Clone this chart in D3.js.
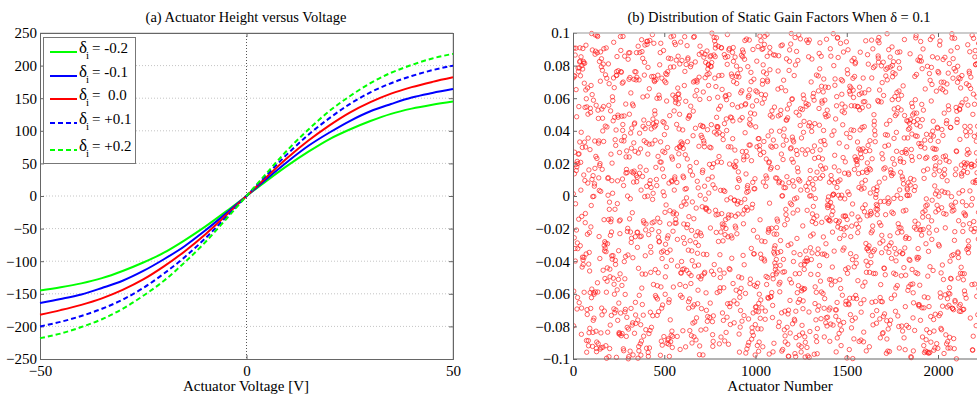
<!DOCTYPE html>
<html><head><meta charset="utf-8">
<script src="https://cdn.jsdelivr.net/npm/d3@7"></script>
<style>
body{margin:0;background:#fff}
text{font-family:"Liberation Serif","Times New Roman",serif;fill:#000}
</style>
</head><body>
<svg id="c" width="977" height="394"></svg>
<script>
// ---------- (a) data: actuator height vs voltage ----------
const voltage = [-50,-45,-40,-35,-30,-25,-20,-15,-10,-5,0,5,10,15,20,25,30,35,40,45,50];
const heightDeltaM02 = [-145,-140,-134,-126,-115,-102,-87,-68,-47,-24,0,24,47,68,87,102,115,126,134,140,145];
const heightDeltaM01 = [-164,-158,-151,-141,-130,-115,-97,-77,-53,-27,0,27,53,77,97,115,130,141,151,158,164];
const heightDelta00  = [-182,-175,-167,-157,-144,-128,-108,-85,-59,-30,0,30,59,85,108,128,144,157,167,175,182];
const heightDeltaP01 = [-200,-193,-184,-173,-159,-141,-119,-94,-65,-33,0,33,65,94,119,141,159,173,184,193,200];
const heightDeltaP02 = [-218,-211,-201,-189,-173,-153,-130,-102,-71,-36,0,36,71,102,130,153,173,189,201,211,218];
const legendLabels = ["-0.2","-0.1"," 0.0","+0.1","+0.2"];
const yTicksA = [-250,-200,-150,-100,-50,0,50,100,150,200,250];
const xTicksA = [-50,0,50];

// ---------- (b) data: static gain factors ----------
// The cloud of ~2300 uniformly distributed gain factors cannot be read point by point;
// a fixed-seed sequence stands in for the individual values (one per actuator).
const actuatorCount = 2300;
const gainSeed = 20110101;
const yTicksB = [-0.1,-0.08,-0.06,-0.04,-0.02,0,0.02,0.04,0.06,0.08,0.1];
const xTicksB = [0,500,1000,1500,2000];

const svg = d3.select("#c");
svg.append("rect").attr("width",977).attr("height",394).attr("fill","#fff");

// ================= Chart (a) =================
const xA = d3.scaleLinear().domain([-50,50]).range([40,453]);
const yA = d3.scaleLinear().domain([-250,250]).range([359,33]);
const gA = svg.append("g");

// grid
gA.selectAll(".hg").data(yTicksA.filter(d=>d>-250&&d<250)).join("line")
  .attr("x1",xA(-50)).attr("x2",xA(50)).attr("y1",d=>yA(d)).attr("y2",d=>yA(d))
  .attr("stroke","#c4c4c4").attr("stroke-width",1).attr("stroke-dasharray","1,2");
gA.append("line").attr("x1",xA(0)).attr("x2",xA(0)).attr("y1",yA(250)).attr("y2",yA(-250))
  .attr("stroke","#555").attr("stroke-width",1).attr("stroke-dasharray","1,2");

// box
gA.append("line").attr("x1",xA(-50)).attr("x2",xA(50)).attr("y1",yA(250)).attr("y2",yA(250)).attr("stroke","#bbb");
gA.append("line").attr("x1",xA(50)).attr("x2",xA(50)).attr("y1",yA(250)).attr("y2",yA(-250)).attr("stroke","#bbb");

// axes
const axLA = gA.append("g").attr("transform",`translate(${xA(-50)},0)`)
  .call(d3.axisLeft(yA).tickValues(yTicksA).tickSize(-4).tickPadding(3).tickFormat(d3.format("d")));
const axBA = gA.append("g").attr("transform",`translate(0,${yA(-250)})`)
  .call(d3.axisBottom(xA).tickValues(xTicksA).tickSize(-4).tickPadding(6).tickFormat(d3.format("d")));
gA.append("g").attr("transform",`translate(${xA(50)},0)`)
  .call(d3.axisRight(yA).tickValues(yTicksA).tickSize(-4).tickFormat(""));
gA.append("g").attr("transform",`translate(0,${yA(250)})`)
  .call(d3.axisTop(xA).tickValues(xTicksA).tickSize(-4).tickFormat(""));

// lines
const seriesA = [
  {vals:heightDeltaM02,color:"#00ff00",dash:null},
  {vals:heightDeltaM01,color:"#0000ff",dash:null},
  {vals:heightDelta00, color:"#ff0000",dash:null},
  {vals:heightDeltaP01,color:"#0000ff",dash:"5,3"},
  {vals:heightDeltaP02,color:"#00ff00",dash:"5,3"}
];
const lineA = d3.line().x(d=>xA(d[0])).y(d=>yA(d[1])).curve(d3.curveMonotoneX);
seriesA.forEach(s=>{
  gA.append("path").datum(voltage.map((v,i)=>[v,s.vals[i]]))
    .attr("d",lineA).attr("fill","none").attr("stroke",s.color).attr("stroke-width",2)
    .attr("stroke-dasharray",s.dash);
});

// legend
const lg = gA.append("g");
lg.append("rect").attr("x",43.5).attr("y",37.5).attr("width",92).attr("height",126)
  .attr("fill","#fff").attr("stroke","#777").attr("stroke-width",1);
const legY = [52,76,99,123,150];
seriesA.forEach((s,i)=>{
  const y = legY[i];
  lg.append("line").attr("x1",50).attr("x2",77).attr("y1",y).attr("y2",y)
    .attr("stroke",s.color).attr("stroke-width",2).attr("stroke-dasharray",s.dash);
  lg.append("text").attr("x",79).attr("y",y+1).attr("font-size",17).text("δ");
  lg.append("text").attr("x",86).attr("y",y+7).attr("font-size",11).text("i");
  lg.append("text").attr("x",92).attr("y",y+1).attr("font-size",15)
    .attr("xml:space","preserve").style("white-space","pre").text("= "+legendLabels[i]);
});

// titles
gA.append("text").attr("x",246).attr("y",22).attr("text-anchor","middle").attr("font-size",14.5)
  .text("(a) Actuator Height versus Voltage");
gA.append("text").attr("x",246).attr("y",391).attr("text-anchor","middle").attr("font-size",15)
  .text("Actuator Voltage [V]");

// ================= Chart (b) =================
const xB = d3.scaleLinear().domain([0,2000]).range([573,938]);
const yB = d3.scaleLinear().domain([-0.1,0.1]).range([359,33]);
const gB = svg.append("g");

// fixed-seed sequence (mulberry32)
function seq(a){return function(){a|=0;a=a+0x6D2B79F5|0;let t=Math.imul(a^a>>>15,1|a);t=t+Math.imul(t^t>>>7,61|t)^t;return((t^t>>>14)>>>0)/4294967296;}}
const rnd = seq(gainSeed);
const actuatorIds = d3.range(1,actuatorCount+1);
const gainFactors = actuatorIds.map(()=> (rnd()*2-1)*0.1);

svg.append("clipPath").attr("id","clipB").append("rect")
  .attr("x",573).attr("y",30).attr("width",404).attr("height",332);

gB.append("g").attr("clip-path","url(#clipB)")
  .selectAll("circle").data(actuatorIds).join("circle")
  .attr("cx",(d)=>xB(d)).attr("cy",(d,i)=>yB(gainFactors[i])).attr("r",2.2)
  .attr("fill","none").attr("stroke","#ff1a1a").attr("stroke-width",0.9).attr("stroke-opacity",0.75);

gB.append("line").attr("x1",573).attr("x2",977).attr("y1",yB(0.1)).attr("y2",yB(0.1)).attr("stroke","#bbb");
gB.append("g").attr("transform",`translate(${xB(0)},0)`)
  .call(d3.axisLeft(yB).tickValues(yTicksB).tickSize(-4).tickPadding(3).tickFormat(d=>d3.format("")(+d.toFixed(2))));
const axBB = d3.axisBottom(xB).tickValues(xTicksB).tickSize(-4).tickPadding(6).tickFormat(d3.format("d"));
gB.append("g").attr("transform",`translate(0,${yB(-0.1)})`).call(axBB);
gB.selectAll(".domain").attr("d",function(){return d3.select(this).attr("d");});
gB.append("g").attr("transform",`translate(0,${yB(0.1)})`)
  .call(d3.axisTop(xB).tickValues(xTicksB).tickSize(-4).tickFormat(""));

gB.append("text").attr("x",779).attr("y",22).attr("text-anchor","middle").attr("font-size",14.5)
  .text("(b) Distribution of Static Gain Factors When δ = 0.1");
gB.append("text").attr("x",780).attr("y",391).attr("text-anchor","middle").attr("font-size",15)
  .text("Actuator Number");

// axis styling
svg.selectAll(".tick text").attr("font-size",15).attr("font-family","Liberation Serif, serif").attr("fill","#000");
svg.selectAll(".tick line").attr("stroke","#666");
svg.selectAll(".domain").attr("stroke","#666");
// bottom domain of (b) extends past visible area
gB.selectAll("g").filter(function(){return this.getAttribute("transform")===`translate(0,${yB(-0.1)})`;})
  .select(".domain").attr("d",`M573,0H977`);
gB.selectAll("g").filter(function(){return this.getAttribute("transform")===`translate(0,${yB(0.1)})`;})
  .select(".domain").attr("stroke","#bbb").attr("d",`M573,0H977`);
</script>
</body></html>
